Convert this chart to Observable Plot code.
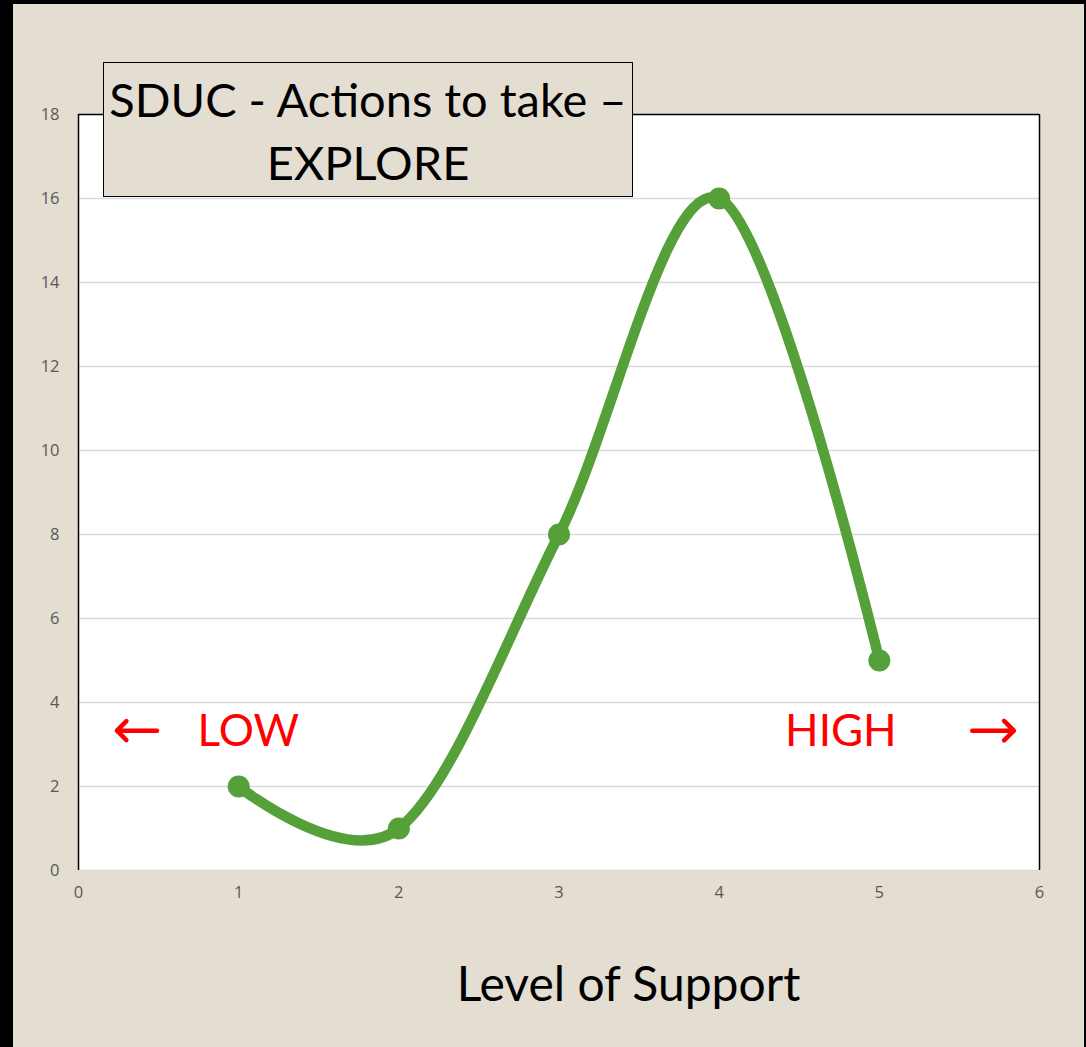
<!DOCTYPE html>
<html>
<head>
<meta charset="utf-8">
<script src="https://cdn.jsdelivr.net/npm/d3@7"></script>
<script src="https://cdn.jsdelivr.net/npm/@observablehq/plot@0.6"></script>
<style>
  html, body { margin: 0; padding: 0; background: #000; }
  #page {
    position: relative;
    width: 1071px; height: 1043px;
    margin-left: 13px; margin-top: 4px;
    background: #e3ddd2;
    overflow: hidden;
  }
  #titlebox {
    position: absolute;
    left: 90px; top: 58px;
    width: 528px; height: 133px;
    background: #e3ddd2;
    border: 1px solid #000;
    text-align: center;
    font-family: Lato, "Open Sans", sans-serif;
    font-size: 47px;
    line-height: 63px;
    color: #000;
    box-sizing: content-box;
  }
  #titlebox span { position: relative; top: 5px; }
  #xtitle {
    position: absolute;
    left: 0; width: 1071px;
    top: 950px;
    text-align: center;
    padding-left: 160px;
    box-sizing: border-box;
    font-family: Lato, "Open Sans", sans-serif;
    font-size: 48px;
    color: #000;
  }
</style>
</head>
<body>
<div id="page">
  <div id="chart"></div>
  <div id="titlebox"><span>SDUC - Actions to take –<br>EXPLORE</span></div>
  <div id="xtitle">Level of Support</div>
</div>
<script>
const levels = [1, 2, 3, 4, 5];
const counts = [2, 1, 8, 16, 5];
const xTicks = [0, 1, 2, 3, 4, 5, 6];
const yTicks = [0, 2, 4, 6, 8, 10, 12, 14, 16, 18];
const wordText = ["LOW", "HIGH"];
const wordX = [1.06, 4.76];
const wordY = [3.3, 3.3];
const arrowFrom = [0.49, 5.58];
const arrowTo = [0.24, 5.84];
const arrowY = [3.33, 3.33];

const data = levels.map((x, i) => ({x, y: counts[i]}));
const words = wordText.map((t, i) => ({t, x: wordX[i], y: wordY[i]}));
const arrows = arrowFrom.map((x1, i) => ({x1, x2: arrowTo[i], y: arrowY[i]}));

const chart = Plot.plot({
  width: 1071,
  height: 1043,
  marginLeft: 65,
  marginRight: 45,
  marginTop: 110,
  marginBottom: 177,
  style: {background: "transparent", fontFamily: "'Open Sans', sans-serif", fontSize: "16.5px"},
  x: {domain: [0, 6], label: null},
  y: {domain: [0, 18], label: null},
  marks: [
    Plot.frame({fill: "white", stroke: null}),
    Plot.ruleY(yTicks.filter(v => v < 18), {stroke: "#d9d9d9", strokeWidth: 1.5}),
    Plot.ruleY([18], {stroke: "#000", strokeWidth: 1.5}),
    Plot.ruleX([0, 6], {stroke: "#000", strokeWidth: 1.5}),
    Plot.axisX({ticks: xTicks, tickFormat: "d", tickSize: 0, tickPadding: 16, fontSize: 16.5, color: "#595959", label: null}),
    Plot.axisY({ticks: yTicks, tickFormat: "d", tickSize: 0, tickPadding: 19, fontSize: 16.5, color: "#595959", label: null}),
    Plot.line(data, {x: "x", y: "y", stroke: "#56a03a", strokeWidth: 10.5, curve: "cardinal", strokeLinecap: "round"}),
    Plot.dot(data, {x: "x", y: "y", r: 11, fill: "#56a03a", stroke: null}),
    Plot.text(words, {x: "x", y: "y", text: "t", fill: "#ff0000", fontSize: 44, fontFamily: "Lato, 'Open Sans', sans-serif"}),
    Plot.arrow(arrows, {x1: "x1", x2: "x2", y1: "y", y2: "y", stroke: "#ff0000", strokeWidth: 4.5, headAngle: 90, headLength: 24, insetStart: 0, insetEnd: 0})
  ]
});
document.getElementById("chart").appendChild(chart);
</script>
</body>
</html>
